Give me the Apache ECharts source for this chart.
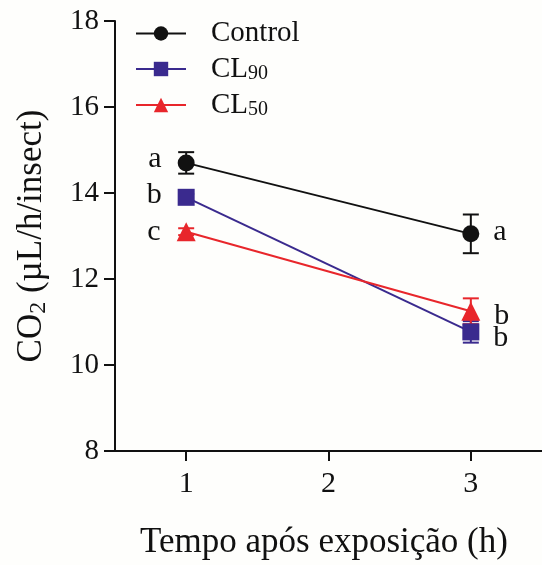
<!DOCTYPE html>
<html>
<head>
<meta charset="utf-8">
<script src="https://cdn.jsdelivr.net/npm/echarts@6/dist/echarts.min.js"></script>
<style>
  html, body { margin: 0; padding: 0; background: #fefefc; }
  #chart { width: 542px; height: 565px; }
</style>
</head>
<body>
<div id="chart"></div>
<script>
// CO2 production after exposure, mean ± SE per group
const hours = [1, 3];
const groupNames = ['Control', 'CL90', 'CL50'];
const controlMean = [14.7, 13.05];
const controlErr = [0.25, 0.45];
const cl90Mean = [13.9, 10.77];
const cl90Err = [0.08, 0.25];
const cl50Mean = [13.1, 11.25];
const cl50Err = [0.08, 0.3];
const controlLetters = ['a', 'a'];
const cl90Letters = ['b', 'b'];
const cl50Letters = ['c', 'b'];
const xTicks = [1, 2, 3];
const yTicks = [8, 10, 12, 14, 16, 18];

const FONT = '"Liberation Serif", "Times New Roman", serif';

const groups = [
  { name: groupNames[0], mean: controlMean, err: controlErr, letters: controlLetters,
    color: '#111111', symbol: 'circle', size: 17, dy: [-4, -2] },
  { name: groupNames[1], mean: cl90Mean, err: cl90Err, letters: cl90Letters,
    color: '#3a2a8e', symbol: 'rect', size: 17, dy: [-2, 6] },
  { name: groupNames[2], mean: cl50Mean, err: cl50Err, letters: cl50Letters,
    color: '#e8262b', symbol: 'triangle', size: 19, dy: [0, 5] }
];

const legendText = {
  Control: '{n|Control}',
  CL90: '{n|CL}{s|90}',
  CL50: '{n|CL}{s|50}'
};

const series = [];

groups.forEach(function (g) {
  // error bars with caps
  series.push({
    type: 'custom',
    name: g.name + ' SE',
    z: 1,
    silent: true,
    data: hours.map(function (h, i) { return [h, g.mean[i] - g.err[i], g.mean[i] + g.err[i]]; }),
    renderItem: function (params, api) {
      const lo = api.coord([api.value(0), api.value(1)]);
      const hi = api.coord([api.value(0), api.value(2)]);
      const w = 8;
      const st = { stroke: g.color, lineWidth: 2 };
      return {
        type: 'group',
        children: [
          { type: 'line', shape: { x1: lo[0], y1: lo[1], x2: hi[0], y2: hi[1] }, style: st },
          { type: 'line', shape: { x1: lo[0] - w, y1: lo[1], x2: lo[0] + w, y2: lo[1] }, style: st },
          { type: 'line', shape: { x1: hi[0] - w, y1: hi[1], x2: hi[0] + w, y2: hi[1] }, style: st }
        ]
      };
    }
  });
  // mean line with markers and significance letters
  series.push({
    type: 'line',
    name: g.name,
    z: 3,
    symbol: g.symbol,
    symbolSize: g.size,
    itemStyle: { color: g.color, opacity: 1 },
    lineStyle: { color: g.color, width: 2 },
    data: hours.map(function (h, i) {
      const first = i === 0;
      return {
        value: [h, g.mean[i]],
        label: {
          show: true,
          formatter: g.letters[i],
          position: first ? 'left' : 'right',
          distance: first ? 16 : 14,
          offset: [0, g.dy[i]],
          color: '#111',
          fontFamily: FONT,
          fontSize: 30
        }
      };
    })
  });
});

const chart = echarts.init(document.getElementById('chart'));
chart.setOption({
  backgroundColor: '#fefefc',
  animation: false,
  textStyle: { fontFamily: FONT },
  grid: { left: 115, top: 21, width: 433, height: 431, containLabel: false },
  legend: {
    orient: 'vertical',
    left: 130,
    top: 14,
    itemWidth: 50,
    itemHeight: 18,
    itemGap: 6.5,
    data: groupNames,
    formatter: function (name) { return legendText[name]; },
    textStyle: {
      padding: [0, 0, 0, 20],
      rich: {
        n: { fontFamily: FONT, fontSize: 29, color: '#111', lineHeight: 30 },
        s: { fontFamily: FONT, fontSize: 20, color: '#111', lineHeight: 12, verticalAlign: 'bottom' }
      }
    }
  },
  xAxis: {
    type: 'value',
    min: 0.5,
    max: 3.5,
    name: 'Tempo após exposição (h)',
    nameLocation: 'middle',
    nameGap: 74,
    nameTextStyle: { fontFamily: FONT, fontSize: 35, color: '#111', padding: [0, 9, 0, 0] },
    splitLine: { show: false },
    axisLine: { onZero: false, lineStyle: { color: '#111', width: 2 } },
    axisTick: { show: true, customValues: xTicks, length: 10, inside: false, lineStyle: { color: '#111', width: 2 } },
    axisLabel: { customValues: xTicks, fontFamily: FONT, fontSize: 30, color: '#111', margin: 18 }
  },
  yAxis: {
    type: 'value',
    min: 8,
    max: 18,
    name: '{n|CO}{s|2}{n| (µL/h/insect)}',
    nameLocation: 'middle',
    nameRotate: 90,
    nameGap: 64,
    nameTextStyle: {
      rich: {
        n: { fontFamily: FONT, fontSize: 35, color: '#111', lineHeight: 38 },
        s: { fontFamily: FONT, fontSize: 24, color: '#111', lineHeight: 16, verticalAlign: 'bottom' }
      }
    },
    splitLine: { show: false },
    axisLine: { show: true, lineStyle: { color: '#111', width: 2 } },
    axisTick: { show: true, customValues: yTicks, length: 11, lineStyle: { color: '#111', width: 2 } },
    axisLabel: { customValues: yTicks, fontFamily: FONT, fontSize: 29, color: '#111', margin: 16 }
  },
  series: series
});
</script>
</body>
</html>
